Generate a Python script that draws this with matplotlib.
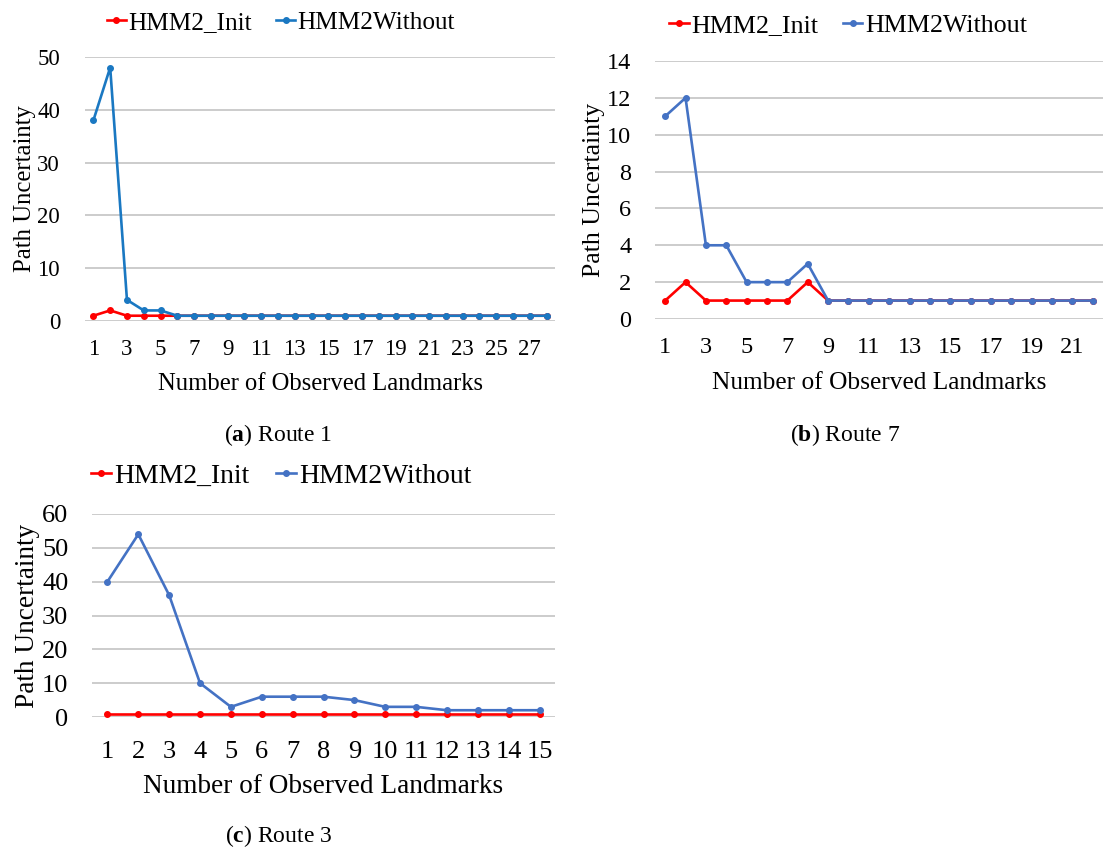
import matplotlib.pyplot as plt
import numpy as np

plt.rcParams['font.family'] = ['Liberation Serif', 'DejaVu Serif']
plt.rcParams['mathtext.fontset'] = 'custom'
plt.rcParams['mathtext.rm'] = 'Liberation Serif'
plt.rcParams['mathtext.bf'] = 'Liberation Serif:bold'

# route 1 (a)
r1_init = [1, 2, 1, 1, 1, 1] + [1] * 22
r1_without = [38, 48, 4, 2, 2, 1] + [1] * 22
# route 7 (b)
r7_init = [1, 2, 1, 1, 1, 1, 1, 2, 1] + [1] * 13
r7_without = [11, 12, 4, 4, 2, 2, 2, 3, 1] + [1] * 13
# route 3 (c)
r3_init = [1] * 15
r3_without = [40, 54, 36, 10, 3, 6, 6, 6, 5, 3, 3, 2, 2, 2, 2]

RED = '#FF0000'
BLUE_A = '#1A78C2'
BLUE = '#4472C4'
GRID = '#BFBFBF'

W, H = 1113, 850
fig = plt.figure(figsize=[W / 100, H / 100], dpi=100)


def panel(box, init, without, blue, ymax, ystep, xstep, tfs, lfs, yfs, gfs,
          xpad, ypad, xlab_y, ylab_x, leg_xy, cap, cap_xy):
    l, t, r, b = box
    ax = fig.add_axes([l / W, 1 - b / H, (r - l) / W, (b - t) / H])
    x = np.arange(1, len(init) + 1)
    ax.plot(x, init, color=RED, marker='o', ms=4, lw=1.9, label='HMM2_Init')
    ax.plot(x, without, color=blue, marker='o', ms=4, lw=1.9, label='HMM2Without')
    ax.set_xlim(0.5, len(init) + 0.5)
    ax.set_ylim(0, ymax)
    ax.set_yticks(np.arange(0, ymax + 1, ystep))
    ax.set_xticks(x[::xstep])
    ax.grid(axis='y', color=GRID, lw=1.1)
    ax.set_axisbelow(True)
    for s in ax.spines.values():
        s.set_visible(False)
    ax.tick_params(length=0, labelsize=tfs)
    ax.tick_params(axis='x', pad=xpad)
    ax.tick_params(axis='y', pad=ypad)
    ax.set_xlabel('Number of Observed Landmarks', fontsize=lfs)
    ax.set_ylabel('Path Uncertainty', fontsize=yfs)
    ax.xaxis.set_label_coords(0.5, -(xlab_y - b) / (b - t))
    ax.yaxis.set_label_coords(-(l - ylab_x) / (r - l), 0.5)
    ax.legend(loc='center', bbox_to_anchor=(leg_xy[0] / W, 1 - leg_xy[1] / H),
              bbox_transform=fig.transFigure, ncol=2, frameon=False,
              fontsize=gfs, handlelength=0.75, handletextpad=0.1,
              columnspacing=0.95, borderpad=0)
    fig.text(cap_xy[0] / W, 1 - cap_xy[1] / H, cap, fontsize=17,
             ha='center', va='center')
    return ax


panel((85, 57, 555, 321), r1_init, r1_without, BLUE_A, 50, 10, 2,
      16.5, 17.7, 17.8, 18.2, 13, 18, 373, 36, (281, 23),
      r'($\mathbf{a}$) Route 1', (278, 435))
panel((655, 61, 1103, 319), r7_init, r7_without, BLUE, 14, 2, 2,
      17.5, 18.3, 18.5, 18.7, 13, 17, 372, 605, (848, 25),
      r'($\mathbf{b}$) Route 7', (845, 435))
panel((92, 514, 555, 717), r3_init, r3_without, BLUE, 60, 10, 1,
      19, 19.6, 19.6, 19.9, 17, 17, 774, 40, (281, 476),
      r'($\mathbf{c}$) Route 3', (279, 836))

plt.savefig('out.png', dpi=100)
